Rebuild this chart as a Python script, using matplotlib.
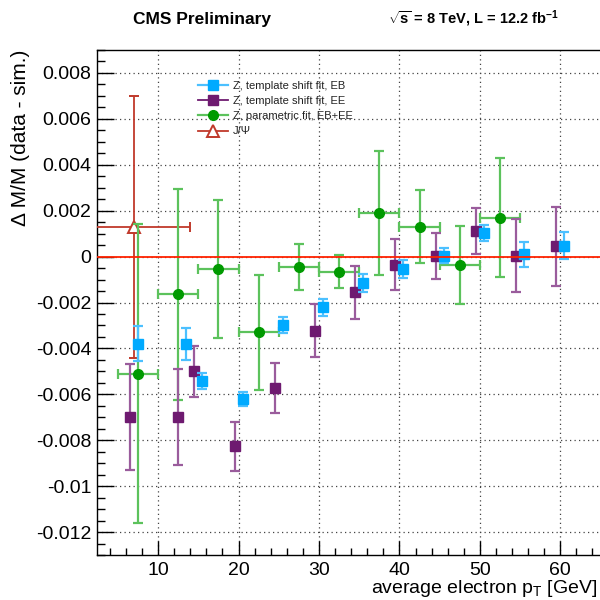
import matplotlib
matplotlib.use("Agg")
import matplotlib.pyplot as plt
from matplotlib.lines import Line2D
from matplotlib.ticker import MultipleLocator, FixedLocator, FixedFormatter

plt.rcParams["font.family"] = ["Liberation Sans", "DejaVu Sans"]
plt.rcParams["mathtext.fontset"] = "custom"
plt.rcParams["mathtext.rm"] = "Liberation Sans"
plt.rcParams["mathtext.it"] = "Liberation Sans:italic"
plt.rcParams["mathtext.bf"] = "Liberation Sans:bold"

# Z -> ee, template shift fit, barrel (EB)
eb_pt = [7.5, 13.5, 15.5, 20.5, 25.5, 30.5, 35.5, 40.5, 45.5, 50.5, 55.5, 60.5]
eb_dm = [-0.0038, -0.0038, -0.0054, -0.0062, -0.0030, -0.0022, -0.00116,
         -0.00053, 0.00004, 0.00102, 0.0001, 0.00048]
eb_err = [0.00077, 0.0007, 0.00035, 0.0003, 0.00035, 0.00037, 0.0004,
          0.0004, 0.00034, 0.00034, 0.00055, 0.00058]

# Z -> ee, template shift fit, endcap (EE)
ee_pt = [6.5, 12.5, 14.5, 19.5, 24.5, 29.5, 34.5, 39.5, 44.5, 49.5, 54.5, 59.5]
ee_dm = [-0.0070, -0.0070, -0.0050, -0.00827, -0.00572, -0.00323, -0.00155,
         -0.00035, 0.00003, 0.0011, 0.00004, 0.00044]
ee_err = [0.0023, 0.0021, 0.0011, 0.00105, 0.00108, 0.00115, 0.00115,
          0.0011, 0.001, 0.001, 0.0016, 0.0017]

# Z -> ee, parametric fit, EB+EE
par_pt = [7.5, 12.5, 17.5, 22.5, 27.5, 32.5, 37.5, 42.5, 47.5, 52.5]
par_pt_err = [2.5] * 10
par_dm = [-0.0051, -0.00165, -0.00055, -0.0033, -0.00046, -0.00065,
          0.0019, 0.0013, -0.00037, 0.0017]
par_err = [0.0065, 0.0046, 0.003, 0.0025, 0.001, 0.0007,
           0.0027, 0.0016, 0.0017, 0.0026]

# J/Psi -> ee
jpsi_pt = [7.0]
jpsi_pt_err = [7.0]
jpsi_dm = [0.0013]
jpsi_err = [0.0057]

y_ticks = [-0.012, -0.01, -0.008, -0.006, -0.004, -0.002, 0,
           0.002, 0.004, 0.006, 0.008]
y_tick_labels = ["-0.012", "-0.01", "-0.008", "-0.006", "-0.004", "-0.002",
                 "0", "0.002", "0.004", "0.006", "0.008"]
x_ticks = [10, 20, 30, 40, 50, 60]

labels = ["Z, template shift fit, EB", "Z, template shift fit, EE",
          "Z, parametric fit, EB+EE", "J/\u03a8"]

C_EB, C_EB_BAR = "#00aaff", "#4cc0ff"
C_EE, C_EE_BAR = "#6e1a70", "#9a5c9c"
C_PAR, C_PAR_BAR = "#009a00", "#5cc25c"
C_JPSI = "#c0392b"

fig = plt.figure(figsize=(6, 6), dpi=100)
ax = fig.add_axes([97 / 600, 45 / 600, (600.5 - 97) / 600, (555 - 50) / 600])
ax.set_xlim(2.4, 65)
ax.set_ylim(-0.013, 0.009)

# dotted grid at the major ticks
for xv in x_ticks:
    ax.axvline(xv, color="#444444", lw=0.9, ls=(0, (1, 2.6)), zorder=0)
for yv in y_ticks:
    ax.axhline(yv, color="#444444", lw=0.9, ls=(0, (1, 2.6)), zorder=0)

ax.errorbar(jpsi_pt, jpsi_dm, yerr=jpsi_err, xerr=jpsi_pt_err, fmt="^",
            mfc="white", mec=C_JPSI, mew=1.4, ms=8, ecolor=C_JPSI,
            elinewidth=1.3, capsize=3.5, capthick=1.3, zorder=3)
ax.errorbar(par_pt, par_dm, yerr=par_err, xerr=par_pt_err, fmt="o",
            color=C_PAR, ms=7, ecolor=C_PAR_BAR, elinewidth=1.6,
            capsize=3.5, capthick=1.6, zorder=4)
ax.errorbar(ee_pt, ee_dm, yerr=ee_err, fmt="s", color=C_EE, ms=7.5,
            ecolor=C_EE_BAR, elinewidth=1.6, capsize=3.5, capthick=1.6,
            zorder=5)
ax.errorbar(eb_pt, eb_dm, yerr=eb_err, fmt="s", color=C_EB, ms=7,
            ecolor=C_EB_BAR, elinewidth=1.6, capsize=3.5, capthick=1.6,
            zorder=6)

ax.axhline(0, color="#ff2200", lw=1.3, zorder=7)

# axes styling
for sp in ax.spines.values():
    sp.set_linewidth(1.0)
ax.xaxis.set_major_locator(FixedLocator(x_ticks))
ax.xaxis.set_minor_locator(MultipleLocator(2))
ax.yaxis.set_major_locator(FixedLocator(y_ticks))
ax.yaxis.set_major_formatter(FixedFormatter(y_tick_labels))
ax.yaxis.set_minor_locator(MultipleLocator(0.0005))
ax.tick_params(axis="both", which="both", direction="in", top=False,
               right=False, labelsize=14, width=1.0)
ax.tick_params(axis="x", which="major", length=10, pad=5)
ax.tick_params(axis="x", which="minor", length=5)
ax.tick_params(axis="y", which="major", length=12, pad=4)
ax.tick_params(axis="y", which="minor", length=6)

ax.set_xlabel(r"average electron p$_{\mathrm{T}}$ [GeV]", fontsize=14,
              ha="right", x=0.994, labelpad=-1)
ax.set_ylabel("\u0394 M/M (data - sim.)", fontsize=15, ha="right", y=1.0,
              labelpad=4)

handles = [
    Line2D([], [], color=C_EB_BAR, marker="s", mfc=C_EB, mec=C_EB, ms=7, lw=1.6),
    Line2D([], [], color=C_EE, marker="s", mfc=C_EE, mec=C_EE, ms=7, lw=1.3),
    Line2D([], [], color=C_PAR_BAR, marker="o", mfc=C_PAR, mec=C_PAR, ms=7, lw=1.6),
    Line2D([], [], color=C_JPSI, marker="^", mfc="white", mec=C_JPSI, mew=1.4,
           ms=8, lw=1.3),
]
leg = ax.legend(handles, labels, loc="upper left", bbox_to_anchor=(0.2, 0.939),
                frameon=False, fontsize=8, handlelength=2.7, handletextpad=0.5,
                labelspacing=0.47, borderpad=0, borderaxespad=0)
for t in leg.get_texts():
    t.set_color("#222222")

fig.text(133 / 600, 1 - 24 / 600, "CMS Preliminary", fontsize=12.5,
         fontweight="bold", ha="left", va="baseline")
fig.text(388 / 600, 1 - 24 / 600,
         r"$\mathbf{\sqrt{s}}$ = 8 TeV, L = 12.2 fb$^{\mathbf{-1}}$",
         fontsize=10.5, fontweight="bold", ha="left", va="baseline")

fig.savefig("out.png", dpi=100)
